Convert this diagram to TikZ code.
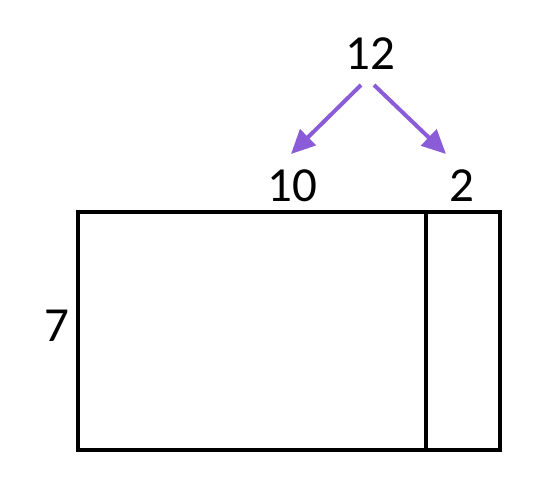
\documentclass[tikz,border=0pt]{standalone}
\usepackage{fontspec}
\setmainfont{Carlito}
\usetikzlibrary{arrows.meta}
\definecolor{arrowpurple}{HTML}{8A5CD8}
\begin{document}
\begin{tikzpicture}[x=1pt,y=-1pt,
  lbl/.style={font=\fontsize{49}{52}\selectfont, inner sep=0pt, anchor=center},
  edge/.style={line width=4pt},
  arr/.style={draw=arrowpurple, line width=4pt, -{Triangle[length=24pt,width=22pt]}}]
\useasboundingbox (0,0) rectangle (541,482);
\draw[edge] (78,212) rectangle (500,450);
\draw[edge] (426,212) -- (426,450);
\node[lbl] (n12) at (370,54) {12};
\node[lbl] (n10) at (292,186) {10};
\node[lbl] (n2) at (462,186) {2};
\node[lbl] (n7) at (57,326) {7};
\coordinate (a1s) at (361,85);
\coordinate (a1e) at (291,154);
\coordinate (a2s) at (374,85);
\coordinate (a2e) at (446,154);
\draw[arr] (a1s) -- (a1e);
\draw[arr] (a2s) -- (a2e);
\end{tikzpicture}
\end{document}
